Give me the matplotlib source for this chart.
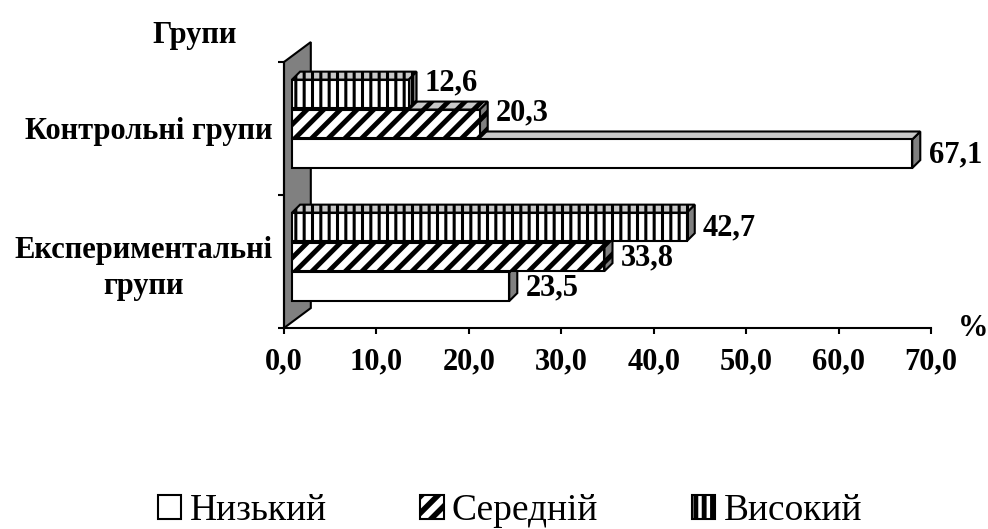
import matplotlib
matplotlib.use('Agg')
from matplotlib import pyplot as plt
from matplotlib.patches import Rectangle, Polygon
import numpy as np

plt.rcParams['font.family'] = ['Liberation Serif', 'DejaVu Serif']
plt.rcParams['hatch.color'] = 'black'

# дані
groups = ['Експериментальні\nгрупи', 'Контрольні групи']
levels = ['Низький', 'Середній', 'Високий']
low = [23.5, 67.1]
mid = [33.8, 20.3]
high = [42.7, 12.6]
series = [low, mid, high]
xticks = np.arange(0, 71, 10)

# стиль "3D"
hatches = ['', '//', '||']
hatch_lw = [1.0, 3.5, 2.2]
legend_hatch_lw = [1.0, 4.0, 3.5]
offsets = [-0.19, 0.035, 0.26]
bar_h = 0.215
X0 = 0.87      # зсув передньої грані
DX = 0.87      # глибина по x
DY = 0.06      # глибина по y

fig = plt.figure(figsize=(9.88, 5.29), dpi=100)
ax = fig.add_axes([284/988, 1 - 328/529, (931-284)/988, (328-62)/529])
ax.set_xlim(0, 70)
ax.set_ylim(-0.5, 1.5)


def hlw(p, lw):
    if hasattr(p, 'set_hatch_linewidth'):
        p.set_hatch_linewidth(lw)
    return p


# стінка
wall = Polygon([(0, -0.5), (0, 1.5), (2.9, 1.65), (2.9, -0.35)], closed=True,
               facecolor='#808080', edgecolor='black', lw=1.5,
               clip_on=False, zorder=1)
ax.add_patch(wall)

handles = []
for s, vals in enumerate(series):
    for g, v in enumerate(vals):
        yc = g + offsets[s]
        y0, y1 = yc - bar_h/2, yc + bar_h/2
        side = Polygon([(X0+v, y0), (X0+v, y1), (X0+v+DX, y1+DY), (X0+v+DX, y0+DY)],
                       closed=True, facecolor='#808080', edgecolor='black', lw=1.5,
                       hatch=hatches[s], clip_on=False, zorder=2+s)
        top = Polygon([(X0, y1), (X0+v, y1), (X0+v+DX, y1+DY), (X0+DX, y1+DY)],
                      closed=True, facecolor='#c8c8c8', edgecolor='black', lw=1.5,
                      hatch=hatches[s], clip_on=False, zorder=2+s)
        front = Rectangle((X0, y0), v, bar_h, facecolor='white', edgecolor='black',
                          lw=1.5, hatch=hatches[s], clip_on=False, zorder=2+s)
        for p in (side, top, front):
            ax.add_patch(hlw(p, hatch_lw[s]))
        # підпис піднімаємо, якщо нижній стовпчик довший
        below_longer = s > 0 and series[s-1][g] > v
        dy = 0.085 if below_longer else -0.01
        ax.text(X0 + v + DX + 0.9, yc + dy, f'{v:.1f}'.replace('.', ','),
                ha='left', va='center', fontsize=22, fontweight='bold', zorder=10)
    handles.append(hlw(Rectangle((0, 0), 1, 1, facecolor='white', edgecolor='black',
                                 lw=1.5, hatch=hatches[s]), hatch_lw[s]))

# осі
for sp in ['top', 'right']:
    ax.spines[sp].set_visible(False)
for sp in ['left', 'bottom']:
    ax.spines[sp].set_linewidth(1.5)
    ax.spines[sp].set_zorder(20)

ax.set_xticks(xticks)
ax.set_xticklabels([f'{t:.1f}'.replace('.', ',') for t in xticks],
                   fontsize=22, fontweight='bold')
ax.tick_params(axis='x', direction='out', length=4, width=1.5, pad=10)

ax.set_yticks([-0.5, 0.5, 1.5])
ax.set_yticklabels([])
ax.tick_params(axis='y', which='major', direction='out', length=4, width=1.5)
ax.set_yticks([0, 1], minor=True)
ax.set_yticklabels(groups, minor=True, fontsize=22, fontweight='bold')
ax.tick_params(axis='y', which='minor', length=0, pad=8)
for lab in ax.get_yticklabels(minor=True):
    lab.set_multialignment('center')
    lab.set_linespacing(1.3)

fig.text(195/988, 1 - 35/529, 'Групи', ha='center', va='center',
         fontsize=22, fontweight='bold')
fig.text(973/988, 1 - 328/529, '%', ha='center', va='center',
         fontsize=22, fontweight='bold')

leg = fig.legend(handles, levels, loc='center', bbox_to_anchor=(510/988, 1 - 511/529),
                 ncol=3, frameon=False, prop={'family': 'Liberation Serif', 'size': 27},
                 handlelength=0.62, handleheight=0.62, handletextpad=0.22,
                 columnspacing=2.5)
for h, lw in zip(leg.legend_handles, legend_hatch_lw):
    hlw(h, lw)

fig.savefig('out.png', dpi=100)
